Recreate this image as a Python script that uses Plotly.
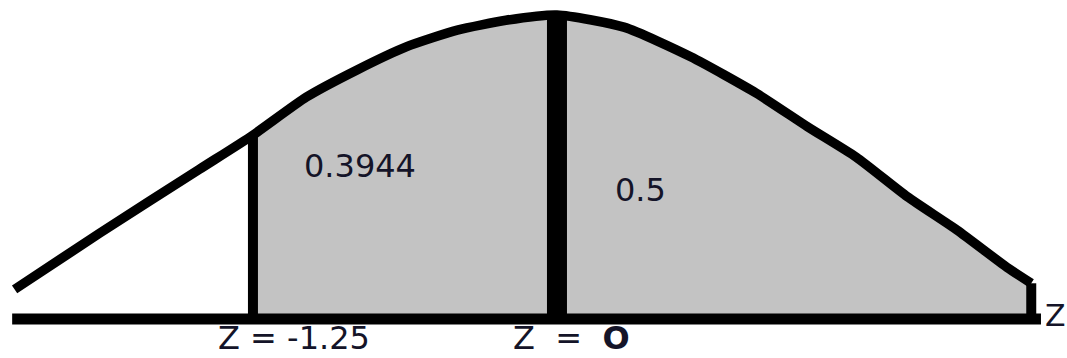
import numpy as np
import plotly.graph_objects as go

# hand-drawn bell curve (z, height)
curve_z = [-2.23, -1.88, -1.47, -1.25, -1.03, -0.82, -0.62, -0.41, -0.21, 0.0,
           0.275, 0.55, 0.82, 1.03, 1.23, 1.44, 1.645, 1.85, 1.95]
curve_h = [0.039, 0.113, 0.197, 0.242, 0.292, 0.328, 0.358, 0.380, 0.393, 0.400,
           0.384, 0.345, 0.297, 0.253, 0.213, 0.161, 0.117, 0.068, 0.047]

z_low = -1.25
z_mid = 0.0
axis_start, axis_end = -2.24, 1.99

area_labels = ["0.3944", "0.5"]
area_z = [-0.81, 0.345]
area_h = [0.201, 0.170]

tick_labels = ["Z = -1.25", "Z&nbsp;&nbsp;=&nbsp;&nbsp;<b>O</b>"]
tick_z = [-1.08, 0.06]

cz = np.array(curve_z)
ch = np.array(curve_h)

fig = go.Figure()

# shaded area from z = -1.25 to the right end
mask = cz >= z_low
fill_x = list(cz[mask]) + [cz[mask][-1], z_low]
fill_y = list(ch[mask]) + [0, 0]
fig.add_trace(go.Scatter(x=fill_x, y=fill_y, fill="toself", mode="none",
                         fillcolor="#c3c3c3", hoverinfo="skip"))

# baseline
fig.add_trace(go.Scatter(x=[axis_start, axis_end], y=[0, 0], mode="lines",
                         line=dict(color="black", width=11)))

# verticals
h_low = float(np.interp(z_low, cz, ch))
h_mid = float(np.interp(z_mid, cz, ch))
fig.add_trace(go.Scatter(x=[z_low, z_low], y=[0, h_low], mode="lines",
                         line=dict(color="black", width=10)))
fig.add_trace(go.Scatter(x=[z_mid, z_mid], y=[0, h_mid], mode="lines",
                         line=dict(color="black", width=20)))
fig.add_trace(go.Scatter(x=[cz[-1], cz[-1]], y=[0, ch[-1]], mode="lines",
                         line=dict(color="black", width=10)))

# the curve
fig.add_trace(go.Scatter(x=cz, y=ch, mode="lines",
                         line=dict(color="black", width=9.5, shape="spline", smoothing=0.6)))

font = dict(family="DejaVu Sans", size=32, color="#141428")
for txt, x, y in zip(area_labels, area_z, area_h):
    fig.add_annotation(x=x, y=y, text=txt, showarrow=False, font=font)
for txt, x in zip(tick_labels, tick_z):
    fig.add_annotation(x=x, y=-0.0513, yanchor="bottom", text=txt,
                       showarrow=False, font=font, borderpad=0)
# axis name at the right end, kept inside the page
fig.add_annotation(x=1, xref="paper", xanchor="right", y=0.004, text="Z",
                   showarrow=False, font=dict(font, size=30), borderpad=0)

fig.update_layout(
    width=1067, height=358,
    margin=dict(l=0, r=0, t=0, b=0),
    paper_bgcolor="white", plot_bgcolor="white",
    showlegend=False,
    xaxis=dict(range=[-2.29, 2.097], visible=False, fixedrange=True),
    yaxis=dict(range=[-0.0513, 0.4197], visible=False, fixedrange=True),
)

# page body has a default 8px margin; drop it so the figure sits at the corner
fig.write_html("out.html", config={"displayModeBar": False},
               post_script="document.body.style.margin='0';")
